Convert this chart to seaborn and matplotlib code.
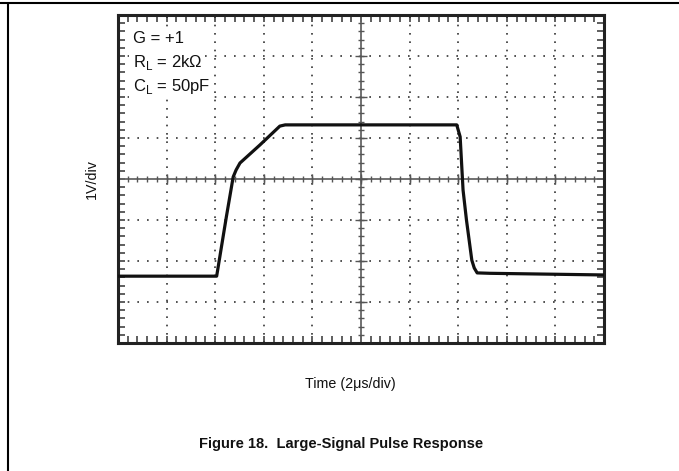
import numpy as np
import pandas as pd
import matplotlib.pyplot as plt
import seaborn as sns
from matplotlib.lines import Line2D

# waveform (x in divisions from left edge, y in divisions from centre)
time_div = [0.0, 2.03, 2.23, 2.37, 2.43, 2.51, 2.92, 3.33, 3.44, 6.97, 7.04, 7.10, 7.17,
            7.28, 7.33, 7.39, 7.65, 9.98, 10.0]
volt_div = [-2.37, -2.37, -0.92, 0.05, 0.22, 0.39, 0.83, 1.29, 1.32, 1.32, 1.03, -0.27, -1.0,
            -1.98, -2.17, -2.29, -2.30, -2.34, -2.34]

conditions = ['G = +1', 'R$_\\mathregular{L}$ = 2kΩ', 'C$_\\mathregular{L}$ = 50pF']
x_label = 'Time (2μs/div)'
y_label = '1V/div'
caption = 'Figure 18.  Large-Signal Pulse Response'

sns.set_style('white')
plt.rcParams['font.family'] = ['Liberation Sans', 'DejaVu Sans']
plt.rcParams['mathtext.fontset'] = 'custom'
plt.rcParams['mathtext.rm'] = 'Liberation Sans'

df = pd.DataFrame({'t': time_div, 'v': volt_div})

fig = plt.figure(figsize=(6.79, 4.71), dpi=100)
ax = fig.add_axes([118 / 679, 1 - 343 / 471, 486 / 679, 328 / 471])
ax.set_xlim(0, 10)
ax.set_ylim(-4, 4)

# dotted graticule (dots roughly on the minor tick spacing)
for x in range(1, 10):
    if x != 5:
        ax.axvline(x, color='#333333', lw=1.2, ls=(0, (1, 4.0)), zorder=1)
for y in range(-3, 4):
    if y != 0:
        ax.axhline(y, color='#333333', lw=1.2, ls=(0, (1, 4.8)), zorder=1)

# centre axes with tick marks
ax.axvline(5, color='#666666', lw=1.3, zorder=1)
ax.axhline(0, color='#666666', lw=1.3, zorder=1)
minor_x = np.arange(0, 10.01, 0.2)
minor_y = np.arange(-4, 4.01, 0.2)
ax.vlines(minor_x, -0.07, 0.07, color='#555555', lw=1.0, zorder=1)
ax.vlines(np.arange(1, 10), -0.13, 0.13, color='#555555', lw=1.0, zorder=1)
ax.hlines(minor_y, 4.94, 5.06, color='#555555', lw=1.0, zorder=1)
ax.hlines(np.arange(-3, 4), 4.88, 5.12, color='#555555', lw=1.0, zorder=1)

sns.lineplot(data=df, x='t', y='v', sort=False, color='#111111', lw=2.3, ax=ax, zorder=3)

ax.set_xticks(np.arange(0, 10.01, 1))
ax.set_xticks(minor_x, minor=True)
ax.set_yticks(np.arange(-4, 4.01, 1))
ax.set_yticks(minor_y, minor=True)
ax.tick_params(which='both', direction='in', top=True, right=True, bottom=True, left=True,
               labelbottom=False, labelleft=False, color='#333333', length=5, width=1.1)
for s in ax.spines.values():
    s.set_visible(True)
    s.set_color('#222222')
    s.set_linewidth(2.2)
ax.set_xlabel('')
ax.set_ylabel('')

for i, txt in enumerate(conditions):
    ax.text(0.3, 3.32 - i * 0.585, txt, fontsize=12, va='baseline', ha='left', color='#111111',
            zorder=4, bbox=dict(facecolor='white', edgecolor='none', pad=2.5))

fig.text(92 / 679, 1 - 179 / 471, y_label, rotation=90, fontsize=10.3, va='center', ha='center',
         color='#111111')
fig.text(350 / 679, 1 - 384 / 471, x_label, fontsize=10.3, va='center', ha='center',
         color='#111111')
fig.text(341 / 679, 1 - 444 / 471, caption, fontsize=10.5, fontweight='bold', va='center',
         ha='center', color='#111111')

# page frame lines
fig.add_artist(Line2D([0, 1], [1 - 3 / 471, 1 - 3 / 471], color='black', lw=1.5,
                      transform=fig.transFigure))
fig.add_artist(Line2D([8 / 679, 8 / 679], [0, 1 - 3 / 471], color='black', lw=1.5,
                      transform=fig.transFigure))

fig.savefig('out.png', dpi=100)
